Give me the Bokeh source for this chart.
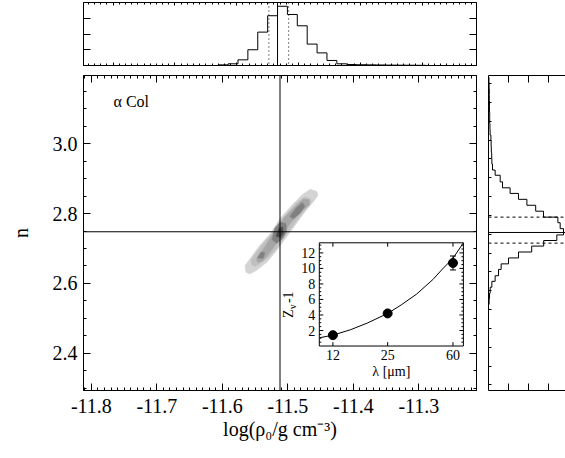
import math
from bokeh.plotting import figure
from bokeh.models import (Range1d, LinearAxis, SingleIntervalTicker, FixedTicker,
                          Span, PrintfTickFormatter, CustomJSTickFormatter)
from bokeh.layouts import column, row
from bokeh.embed import file_html
from bokeh.resources import INLINE
from bokeh.core.properties import value

SERIF = "Liberation Serif"

# ---------------- data ----------------
logrho_range = (-11.812, -11.212)
n_range = (2.293, 3.196)
best_logrho = -11.512
best_n = 2.748
star_name = "\u03b1 Col"

# posterior contour levels (outer -> inner), data coordinates
contour_colors = ["#d4d4d4", "#c0c0c0", "#a6a6a6", "#808080", "#808080", "#808080", "#4a4a4a"]
contour_logrho = [
    [-11.5655, -11.558, -11.543, -11.527, -11.512, -11.494, -11.479, -11.466, -11.456, -11.454,
     -11.461, -11.474, -11.489, -11.502, -11.517, -11.532, -11.548, -11.558, -11.564],
    [-11.556, -11.550, -11.537, -11.524, -11.512, -11.497, -11.485, -11.474, -11.466, -11.464,
     -11.470, -11.481, -11.493, -11.504, -11.516, -11.528, -11.542, -11.550, -11.555],
    [-11.548, -11.535, -11.522, -11.505, -11.488, -11.476, -11.468, -11.467, -11.478, -11.495,
     -11.510, -11.525, -11.538, -11.546],
    [-11.524, -11.520, -11.512, -11.503, -11.502, -11.508, -11.517],
    [-11.497, -11.488, -11.478, -11.474, -11.482, -11.492],
    [-11.546, -11.541, -11.535, -11.538],
    [-11.518, -11.514, -11.508, -11.507, -11.511],
]
contour_n = [
    [2.651, 2.670, 2.709, 2.742, 2.786, 2.824, 2.853, 2.870, 2.864, 2.853,
     2.834, 2.805, 2.766, 2.733, 2.694, 2.661, 2.637, 2.627, 2.632],
    [2.668, 2.684, 2.716, 2.743, 2.779, 2.810, 2.834, 2.848, 2.843, 2.834,
     2.819, 2.795, 2.763, 2.736, 2.704, 2.677, 2.657, 2.649, 2.653],
    [2.672, 2.705, 2.745, 2.790, 2.822, 2.842, 2.840, 2.826, 2.808, 2.775,
     2.735, 2.695, 2.665, 2.660],
    [2.725, 2.758, 2.775, 2.772, 2.750, 2.728, 2.715],
    [2.792, 2.815, 2.832, 2.822, 2.800, 2.785],
    [2.673, 2.690, 2.688, 2.672],
    [2.735, 2.758, 2.762, 2.742, 2.732],
]

# marginal histogram of log rho (top panel)
top_range = (-11.848, -11.212)
top_edges = [-11.630, -11.614, -11.598, -11.582, -11.566, -11.550, -11.534, -11.518, -11.502,
             -11.486, -11.470, -11.454, -11.438, -11.422, -11.406, -11.390, -11.374, -11.358,
             -11.342, -11.326, -11.310, -11.294]
top_counts = [0.010, 0.027, 0.09, 0.25, 0.53, 0.79, 0.94, 0.81, 0.63, 0.34, 0.20, 0.08,
              0.027, 0.016, 0.012, 0.010, 0.008, 0.006, 0.005, 0.004, 0.003]
top_best = -11.534
top_lo, top_hi = -11.548, -11.516

# marginal histogram of n (right panel)
right_edges = [2.540, 2.556, 2.572, 2.589, 2.606, 2.622, 2.640, 2.656, 2.673, 2.690,
               2.707, 2.723, 2.739, 2.757, 2.774, 2.790, 2.807, 2.824, 2.841, 2.858,
               2.874, 2.891, 2.910, 2.925, 2.942, 2.958, 2.975, 2.991, 3.008, 3.025,
               3.041, 3.058, 3.075, 3.091, 3.108, 3.124, 3.141, 3.158, 3.174, 3.191]
right_counts = [0.008, 0.013, 0.021, 0.042, 0.083, 0.125, 0.158, 0.25, 0.375, 0.54,
                0.69, 0.854, 0.9375, 0.896, 0.867, 0.6875, 0.59, 0.48, 0.375, 0.27,
                0.175, 0.146, 0.083, 0.05, 0.042, 0.04, 0.035, 0.033, 0.03, 0.02,
                0.018, 0.015, 0.015, 0.012, 0.012, 0.01, 0.01, 0.008, 0.006]
right_best = 2.746
right_lo, right_hi = 2.7155, 2.790
right_ticks = [3.173, 3.119, 3.065, 3.011, 2.957, 2.903, 2.849, 2.795, 2.741, 2.687, 2.633,
               2.579, 2.525, 2.471, 2.417, 2.363, 2.309]

# inset: Z_nu - 1 versus wavelength (micron)
lam_obs = [12, 25, 60]
z_obs = [1.4, 4.2, 10.7]
z_err = [0.0, 0.0, 0.9]
lam_model = [10.1, 12, 15.2, 19, 25, 30, 36.9, 46, 52, 60, 69]
z_model = [1.08, 1.4, 2.1, 2.95, 4.2, 5.3, 6.7, 8.6, 9.9, 11.3, 13.3]
inset_lam_range = (10.0, 69.0)
inset_z_range = (0.0, 13.3)
inset_xticks = [12, 25, 60]
inset_yticks = [2, 4, 6, 8, 10, 12]

# ---------------- layout constants ----------------
inset_target_x = (-11.452, -11.232)
inset_target_y = (2.4205, 2.7164)

BLANK = CustomJSTickFormatter(code="return ''")


def ticks_in(ax, major_in, minor_in, labels=False):
    ax.major_tick_in = major_in
    ax.major_tick_out = 0
    ax.minor_tick_in = minor_in
    ax.minor_tick_out = 0
    ax.axis_line_color = "black"
    ax.major_tick_line_color = "black"
    ax.minor_tick_line_color = "black" if minor_in else None
    if not labels:
        ax.formatter = BLANK
        ax.major_label_text_font_size = "1px"
        ax.major_label_standoff = 0


def serif_axis(ax, label_standoff, title_standoff):
    ax.major_label_text_font = SERIF
    ax.major_label_text_font_size = "20px"
    ax.major_label_text_color = "black"
    ax.major_label_standoff = label_standoff
    ax.axis_label_text_font = SERIF
    ax.axis_label_text_font_size = "20px"
    ax.axis_label_text_font_style = "normal"
    ax.axis_label_text_color = "black"
    ax.axis_label_standoff = title_standoff


# ---------------- main panel ----------------
p = figure(width=483, height=388, x_range=Range1d(*logrho_range), y_range=Range1d(*n_range),
           output_backend="svg", toolbar_location=None,
           x_axis_location=None, y_axis_location=None,
           min_border_left=83, min_border_right=7, min_border_top=5, min_border_bottom=68)
p.grid.visible = False
p.outline_line_color = "black"
p.background_fill_color = "white"
p.border_fill_color = "white"

xt = SingleIntervalTicker(interval=0.1, num_minor_ticks=10)
yt = SingleIntervalTicker(interval=0.2, num_minor_ticks=4)

bx = LinearAxis(ticker=xt, axis_label="log(\u03c1\u2080/g cm\u207b\u00b3)",
                formatter=PrintfTickFormatter(format="%.1f"))
ticks_in(bx, 7, 3, labels=True)
serif_axis(bx, 8, 2)
p.add_layout(bx, "below")

ly = LinearAxis(ticker=yt, axis_label="n", formatter=PrintfTickFormatter(format="%.1f"))
ticks_in(ly, 7, 3, labels=True)
serif_axis(ly, 6, 18)
p.add_layout(ly, "left")

tx = LinearAxis(ticker=xt)
ticks_in(tx, 7, 3)
p.add_layout(tx, "above")
ry = LinearAxis(ticker=yt)
ticks_in(ry, 7, 3)
p.add_layout(ry, "right")

p.patches(xs=contour_logrho, ys=contour_n, fill_color=contour_colors,
          line_color=contour_colors, line_width=0.5)
p.add_layout(Span(location=best_logrho, dimension="height", line_color="black", line_width=1))
p.add_layout(Span(location=best_n, dimension="width", line_color="black", line_width=1))
p.text(x=[logrho_range[0]], y=[n_range[1]], text=[star_name], x_offset=30, y_offset=26,
       text_font=value(SERIF), text_font_size="16px", text_align="left",
       text_baseline="middle", text_color="black")

# ---------------- inset (drawn inside the main frame, log10 wavelength axis) ----------------
L = math.log10
lo_l, hi_l = L(inset_lam_range[0]), L(inset_lam_range[1])
lo_z, hi_z = inset_z_range
sub = p.subplot(x_source=Range1d(lo_l, hi_l), y_source=Range1d(lo_z, hi_z),
                x_target=Range1d(*inset_target_x), y_target=Range1d(*inset_target_y))
xtk = [L(v) for v in inset_xticks]
sub.quad(left=[lo_l], right=[hi_l], bottom=[lo_z], top=[hi_z], fill_color="white",
         line_color="black", line_width=1)
# y ticks (left and right edges)
ymin = [v / 2 for v in range(1, int(hi_z * 2) + 1) if v % 4 != 0]
d_major = 4 / 173.0
d_minor = 2 / 173.0
ny = len(inset_yticks)
sub.segment(x0=[lo_l] * ny, y0=inset_yticks, x1=[lo_l + d_major] * ny, y1=inset_yticks,
            line_color="black")
sub.segment(x0=[hi_l] * ny, y0=inset_yticks, x1=[hi_l - d_major] * ny, y1=inset_yticks,
            line_color="black")
sub.segment(x0=[lo_l] * len(ymin), y0=ymin, x1=[lo_l + d_minor] * len(ymin), y1=ymin,
            line_color="black")
sub.segment(x0=[hi_l] * len(ymin), y0=ymin, x1=[hi_l - d_minor] * len(ymin), y1=ymin,
            line_color="black")
# x ticks (bottom and top edges)
dz = 0.5
nx = len(xtk)
sub.segment(x0=xtk, y0=[lo_z] * nx, x1=xtk, y1=[lo_z + dz] * nx, line_color="black")
sub.segment(x0=xtk, y0=[hi_z] * nx, x1=xtk, y1=[hi_z - dz] * nx, line_color="black")
sub.text(x=[lo_l] * ny, y=inset_yticks, text=[str(v) for v in inset_yticks],
         x_offset=-4, text_align="right", text_baseline="middle", text_font=value(SERIF),
         text_font_size="14px", text_color="black")
sub.text(x=xtk, y=[lo_z] * nx, text=[str(v) for v in inset_xticks], y_offset=4,
         text_align="center", text_baseline="top", text_font=value(SERIF),
         text_font_size="14px", text_color="black")
sub.text(x=[(lo_l + hi_l) / 2], y=[lo_z], text=["\u03bb [\u03bcm]"], y_offset=18,
         text_align="center", text_baseline="top", text_font=value(SERIF),
         text_font_size="14px", text_color="black")
# rotated y label  Z_nu - 1
ylab_z = 3.6
sub.text(x=[lo_l], y=[ylab_z], text=["Z"], x_offset=-31, angle=math.pi / 2,
         text_align="left", text_baseline="middle", text_font=value(SERIF),
         text_font_size="14px", text_color="black")
sub.text(x=[lo_l], y=[ylab_z], text=["\u03bd"], x_offset=-27, y_offset=-9, angle=math.pi / 2,
         text_align="left", text_baseline="middle", text_font=value(SERIF),
         text_font_size="10px", text_color="black")
sub.text(x=[lo_l], y=[ylab_z], text=["-1"], x_offset=-31, y_offset=-15, angle=math.pi / 2,
         text_align="left", text_baseline="middle", text_font=value(SERIF),
         text_font_size="14px", text_color="black")
# model curve, data points and error bar
sub.line(x=[L(v) for v in lam_model], y=z_model, line_color="black", line_width=1)
sub.scatter(x=[L(v) for v in lam_obs], y=z_obs, size=9, fill_color="black", line_color="black")
eb_l = [L(l) for l, e in zip(lam_obs, z_err) if e > 0]
eb_z = [z for z, e in zip(z_obs, z_err) if e > 0]
eb_e = [e for e in z_err if e > 0]
sub.segment(x0=eb_l, y0=[z - e for z, e in zip(eb_z, eb_e)], x1=eb_l,
            y1=[z + e for z, e in zip(eb_z, eb_e)], line_color="black")
cap = 3 / 173.0
for sgn in (-1, 1):
    sub.segment(x0=[l - cap for l in eb_l], y0=[z + sgn * e for z, e in zip(eb_z, eb_e)],
                x1=[l + cap for l in eb_l], y1=[z + sgn * e for z, e in zip(eb_z, eb_e)],
                line_color="black")

# ---------------- top marginal histogram ----------------
pt = figure(width=483, height=70, x_range=Range1d(*top_range), y_range=Range1d(0, 1),
            output_backend="svg", toolbar_location=None,
            x_axis_location=None, y_axis_location=None,
            min_border_left=83, min_border_right=7, min_border_top=2, min_border_bottom=5)
pt.grid.visible = False
pt.outline_line_color = "black"
txt = SingleIntervalTicker(interval=0.1, num_minor_ticks=10)
tyt = FixedTicker(ticks=[0.25, 0.5, 0.75])
for loc, ax in (("above", LinearAxis(ticker=txt)), ("below", LinearAxis(ticker=txt))):
    ticks_in(ax, 3, 2)
    pt.add_layout(ax, loc)
for loc in ("left", "right"):
    ax = LinearAxis(ticker=tyt)
    ticks_in(ax, 7, 0)
    pt.add_layout(ax, loc)
sx, sy = [top_edges[0]], [0.0]
for i, c in enumerate(top_counts):
    sx += [top_edges[i], top_edges[i + 1]]
    sy += [c, c]
sx.append(top_edges[-1]); sy.append(0.0)
pt.line(x=sx, y=sy, line_color="black", line_width=1)
pt.add_layout(Span(location=top_best, dimension="height", line_color="black", line_width=1))
for loc in (top_lo, top_hi):
    pt.add_layout(Span(location=loc, dimension="height", line_color="black", line_width=1,
                       line_dash="1 3"))

# ---------------- right marginal histogram ----------------
pr = figure(width=82, height=388, x_range=Range1d(0, 0.9625), y_range=Range1d(*n_range),
            output_backend="svg", toolbar_location=None,
            x_axis_location=None, y_axis_location=None,
            min_border_left=5, min_border_right=0, min_border_top=5, min_border_bottom=68)
pr.grid.visible = False
pr.outline_line_color = None
rxt = FixedTicker(ticks=[0.25, 0.5, 0.75])
for loc in ("above", "below"):
    ax = LinearAxis(ticker=rxt)
    ticks_in(ax, 7, 0)
    pr.add_layout(ax, loc)
ax = LinearAxis(ticker=FixedTicker(ticks=right_ticks))
ticks_in(ax, 3, 0)
pr.add_layout(ax, "left")
rx, ry_ = [0.0], [right_edges[0]]
for i, c in enumerate(right_counts):
    rx += [c, c]
    ry_ += [right_edges[i], right_edges[i + 1]]
rx.append(0.0); ry_.append(right_edges[-1])
pr.line(x=rx, y=ry_, line_color="black", line_width=1)
pr.add_layout(Span(location=right_best, dimension="width", line_color="black", line_width=1))
for loc in (right_lo, right_hi):
    pr.add_layout(Span(location=loc, dimension="width", line_color="black", line_width=1,
                       line_dash="3 3"))

layout = column(pt, row(p, pr))
open("out.html", "w").write(file_html(layout, INLINE))
